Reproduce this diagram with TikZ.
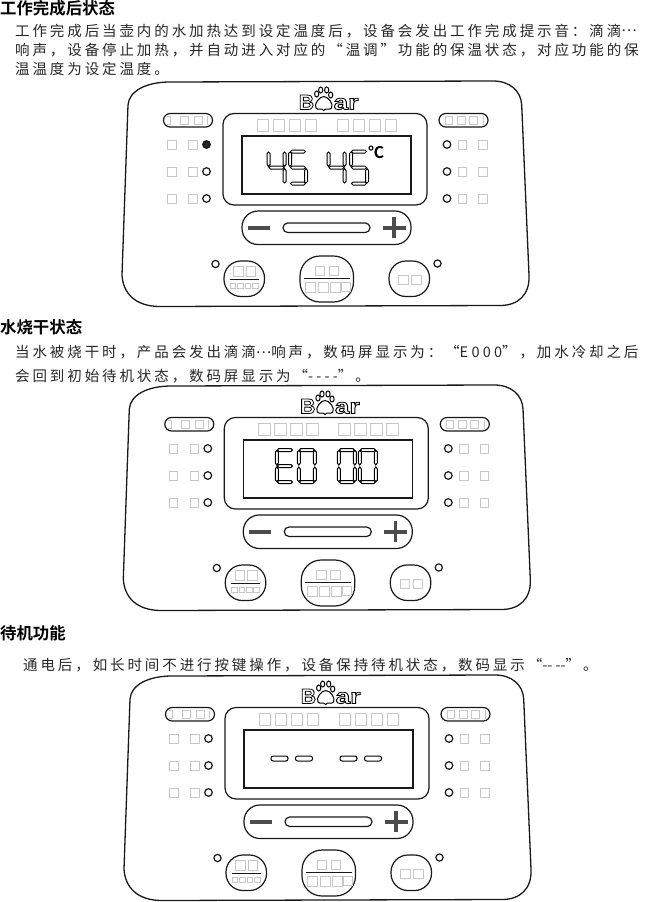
\documentclass[tikz,border=0pt]{standalone}
\usepackage{fontspec}
\newfontfamily\cjk[BoldFont=Noto Sans CJK SC Bold]{Noto Sans CJK SC}
\newfontfamily\cjkbody[LetterSpace=20]{Noto Sans CJK SC}
\setsansfont{Liberation Sans}

\tikzset{
  line/.style={line width=1.2pt, black!90},
  greybox/.style={line width=.6pt, black!22},
  seg/.style={line width=1pt, black, fill=white},
  keymark/.style={black!70, line width=3.2pt},
  heading/.style={anchor=west, inner sep=0pt, font=\fontsize{16.4}{16.4}\cjk\bfseries},
  bodytext/.style={anchor=west, inner sep=0pt, black!85, font=\fontsize{14.5}{14.5}\cjkbody},
  logotext/.style={anchor=base, inner sep=0pt, font=\fontsize{21}{21}\sffamily\bfseries},
  % seven segments, box 19 x 35
  pics/seg a/.style={code={\draw[seg] (2,1.5) -- (3.5,0) -- (15.5,0) -- (17,1.5) -- (15.5,3) -- (3.5,3) -- cycle;}},
  pics/seg g/.style={code={\draw[seg] (2,17.5) -- (3.5,16) -- (15.5,16) -- (17,17.5) -- (15.5,19) -- (3.5,19) -- cycle;}},
  pics/seg d/.style={code={\draw[seg] (2,33.5) -- (3.5,32) -- (15.5,32) -- (17,33.5) -- (15.5,35) -- (3.5,35) -- cycle;}},
  pics/seg f/.style={code={\draw[seg] (1.5,2) -- (3,3.5) -- (3,14.5) -- (1.5,16.5) -- (0,14.5) -- (0,3.5) -- cycle;}},
  pics/seg b/.style={code={\draw[seg] (17.5,2) -- (19,3.5) -- (19,14.5) -- (17.5,16.5) -- (16,14.5) -- (16,3.5) -- cycle;}},
  pics/seg e/.style={code={\draw[seg] (1.5,18.5) -- (3,20.5) -- (3,31.5) -- (1.5,33) -- (0,31.5) -- (0,20.5) -- cycle;}},
  pics/seg c/.style={code={\draw[seg] (17.5,18.5) -- (19,20.5) -- (19,31.5) -- (17.5,33) -- (16,31.5) -- (16,20.5) -- cycle;}},
  % one control panel, local origin at its top left
  pics/panel/.style={code={
    % housing
    \draw[line, line width=1.3pt] (8,30) .. controls (9,16) and (26,7) .. (50,7)
      -- (373,6) .. controls (390,6) and (401,16) .. (401.7,30)
      -- (409,200) .. controls (410,220) and (398,230.5) .. (380,230.5)
      -- (40,231.5) .. controls (15,231.5) and (3,218) .. (2,200) -- cycle;
    % logo
    \node[logotext] (brandB) at (186.5,34.5) {\special{pdf:code q 1 Tr .8 w}B\special{pdf:code Q}};
    \node[logotext, xscale=1.25] (brandR) at (226,34.5) {\special{pdf:code q 1 Tr .8 w}ar\special{pdf:code Q}};
    \foreach \tx/\ty in {196.7/19,200.7/15,206.7/15,210.7/20}
      \draw[line width=1pt] (\tx,\ty) ellipse (2.1 and 3);
    \draw[line width=1pt, fill=white] (203.7,21.5) .. controls (208,21.5) and (214,29) .. (211.5,33)
      .. controls (209,36) and (206,32) .. (203.7,35.5) .. controls (201.5,32) and (198,36) .. (196,33)
      .. controls (193.5,29) and (199.5,21.5) .. (203.7,21.5) -- cycle;
    % program pills
    \draw[line, rounded corners=6.7pt] (43.5,38.5) rectangle (92.5,52);
    \draw[line, rounded corners=6.7pt] (319,38.5) rectangle (368,52);
    \foreach \sx in {60,74}
      \draw[greybox] (\sx,41) rectangle ++(8,8.5);
    \draw[greybox] (46.5,41) -- (50,41) -- (50,49.5) -- (46.5,49.5);
    \draw[greybox] (87.3,41) -- (87.3,49.5);
    \foreach \sx in {337,349}
      \draw[greybox] (\sx,41) rectangle ++(8,8.5);
    \draw[greybox] (325,41) rectangle ++(7,8.5);
    \draw[greybox] (363,41) -- (363,49.5);
    % display
    \draw[line, rounded corners=11pt] (103,38.5) rectangle (307,130);
    \draw[line] (122,61) rectangle (291,119);
    \foreach \sx in {137,153,169,185,217,233,249,265}
      \draw[greybox] (\sx,44.5) rectangle ++(11.5,12);
    % side indicators
    \foreach \iy in {69.5,96.5,123.5} {
      \draw[greybox] (47.5,\iy-4) rectangle ++(8.5,8.5);
      \draw[greybox] (68.5,\iy-4) rectangle ++(8.5,8.5);
      \draw[greybox] (338,\iy-4) rectangle ++(8.5,8.5);
      \draw[greybox] (358.5,\iy-4) rectangle ++(8.5,8.5);
      \draw[line] (327,\iy) circle (3.8);
    }
    \foreach \iy in {96.5,123.5}
      \draw[line] (86.5,\iy) circle (3.8);
    % slider
    \draw[line, rounded corners=16pt] (122,136) rectangle (291,169.5);
    \draw[line, rounded corners=4.7pt] (163,148) rectangle (250,157.5);
    \draw[keymark] (128,153) -- (150,153);
    \draw[keymark] (263,153) -- (286,153);
    \draw[keymark] (274,142) -- (274,163);
    % buttons
    \draw[line, rounded corners=17pt] (104,186) rectangle (144.5,221.5);
    \draw[line, rounded corners=20pt] (180,181) rectangle (233.5,227);
    \draw[line, rounded corners=17pt] (269,186) rectangle (309.5,221.5);
    \draw[line] (109.5,204.5) -- (138.5,204.5);
    \draw[line] (183.5,203.5) -- (230,203.5);
    \draw[line] (95.5,189) circle (3.6);
    \draw[line] (317.5,188.5) circle (3.6);
    \foreach \sx/\sy/\sw in {113.5/191.5/9.5,126/191.5/9.5,195/191/9.5,209/191/9.5,278.5/200/9.5,291.5/200/9.5,185.5/207.5/10,198/207.5/10,210/207.5/10,221/207.5/9}
      \draw[greybox] (\sx,\sy) rectangle ++(\sw,\sw);
    \foreach \sx in {110,117.5,125,132.3}
      \draw[greybox] (\sx,207.8) rectangle ++(5.5,5.5);
  }},
}

% one seven segment digit at (#1,#2), segments #3
\newcommand{\sevenseg}[3]{
  \foreach \s in {#3}
    \path (#1,#2) pic {seg \s};
}

\begin{document}
\begin{tikzpicture}[x=1pt, y=-1pt]
  \useasboundingbox (0,0) rectangle (649,902);
  % first state
  \node[heading] (headA) at (0,8) {工作完成后状态};
  \node[bodytext] (lineAa) at (15,31) {工作完成后当壶内的水加热达到设定温度后，设备会发出工作完成提示音：滴滴\raisebox{.32em}{…}};
  \node[bodytext] (lineAb) at (15,50) {响声，设备停止加热，并自动进入对应的“温调”功能的保温状态，对应功能的保};
  \node[bodytext] (lineAc) at (15,69) {温温度为设定温度。};
  \begin{scope}[shift={(120,75)}]
    \path (0,0) pic {panel};
    \draw[line, fill=black!85] (86.5,69.5) circle (3.8);
    \sevenseg{147}{75}{b,c,f,g}
    \sevenseg{168.5}{75}{a,c,d,f,g}
    \sevenseg{207}{75}{b,c,f,g}
    \sevenseg{229.5}{75}{a,c,d,f,g}
    \node[font=\fontsize{16}{16}\cjk\bfseries, inner sep=0pt] (unitA) at (256,77) {℃};
  \end{scope}
  % second state
  \node[heading] (headB) at (0,327.5) {水烧干状态};
  \node[bodytext] (lineBa) at (15,352.5) {当水被烧干时，产品会发出滴滴\raisebox{.32em}{…}响声，数码屏显示为：“{\cjk E 0 0 0}”，加水冷却之后};
  \node[bodytext] (lineBb) at (15,376.5) {会回到初始待机状态，数码屏显示为“{\cjk - - - -}”。};
  \begin{scope}[shift={(121.3,379)}]
    \path (0,0) pic {panel};
    \draw[line] (86.5,69.5) circle (3.8);
    \sevenseg{154}{69.5}{a,d,e,f,g}
    \sevenseg{176}{69.5}{a,b,c,d,e,f}
    \sevenseg{216}{69.5}{a,b,c,d,e,f}
    \sevenseg{237}{69.5}{a,b,c,d,e,f}
  \end{scope}
  % third state
  \node[heading] (headC) at (0,633) {待机功能};
  \node[bodytext] (lineCa) at (23,665) {通电后，如长时间不进行按键操作，设备保持待机状态，数码显示“{\cjk -- --}”。};
  \begin{scope}[shift={(122,669)}]
    \path (0,0) pic {panel};
    \draw[line] (86.5,69.5) circle (3.8);
    \foreach \dx in {149,173.5,218,242.5}
      \draw[seg, rounded corners=2.2pt] (\dx,87) rectangle ++(17,5);
  \end{scope}
\end{tikzpicture}
\end{document}
